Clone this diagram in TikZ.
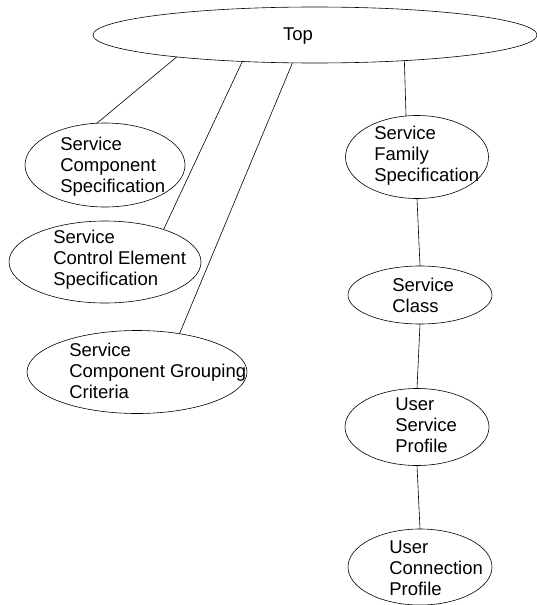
\documentclass[tikz,border=0pt]{standalone}
\usepackage{fontspec}
\setmainfont{Liberation Sans}
\usetikzlibrary{shapes.geometric}

\begin{document}
\begin{tikzpicture}[x=1pt, y=-1pt, line width=0.6pt,
  oval/.style={draw, ellipse, inner sep=0pt, outer sep=0pt},
  lbl/.style={anchor=west, align=left, inner sep=0pt, font=\fontsize{18.5}{21}\selectfont}]
\useasboundingbox (0,0) rectangle (537,605);

% the root
\node[oval, minimum width=444, minimum height=56] (top) at (315,35) {};
\node[lbl, anchor=center] (top-t) at (298,36) {Top};

% left branch
\node[oval, minimum width=160, minimum height=84] (scs) at (105,165) {};
\node[lbl] (scs-t) at (60,167) {Service\\Component\\Specification};

\node[oval, minimum width=192, minimum height=82] (sces) at (105,262) {};
\node[lbl] (sces-t) at (53,260) {Service\\Control Element\\Specification};

\node[oval, minimum width=220, minimum height=83] (scgc) at (137,372) {};
\node[lbl] (scgc-t) at (69,371) {Service\\Component Grouping\\Criteria};

% right chain
\node[oval, minimum width=143, minimum height=83] (sfs) at (417,157) {};
\node[lbl] (sfs-t) at (374,156) {Service\\Family\\Specification};

\node[oval, minimum width=144, minimum height=58] (sc) at (420,295) {};
\node[lbl] (sc-t) at (392,295) {Service\\Class};

\node[oval, minimum width=144, minimum height=77] (usp) at (417,427) {};
\node[lbl] (usp-t) at (395,425) {User\\Service\\Profile};

\node[oval, minimum width=144, minimum height=76] (ucp) at (420,567) {};
\node[lbl] (ucp-t) at (389,568) {User\\Connection\\Profile};

\draw (top.189.5) -- (scs.101);
\draw (top.200.2) -- (sces.29);
\draw (top.231.7) -- (scgc.42);
\draw (top.344.1) -- (sfs.105.5);

\draw (sfs.south) -- (sc.north);
\draw (sc.south) -- (usp.north);
\draw (usp.south) -- (ucp.north);

\end{tikzpicture}
\end{document}
